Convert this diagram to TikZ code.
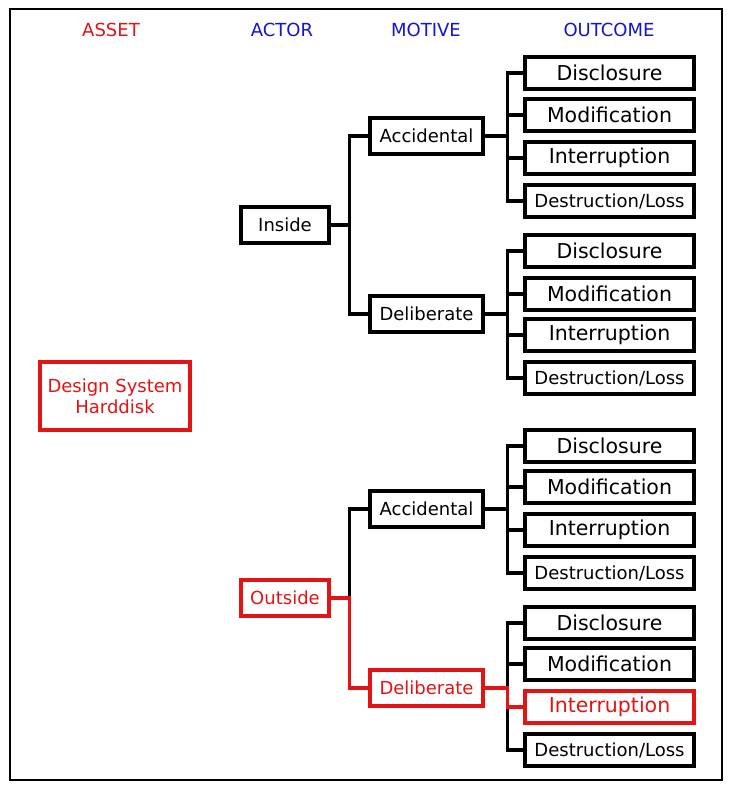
\documentclass[tikz,border=0pt]{standalone}
\usepackage{fontspec}
\setmainfont{DejaVu Sans}
\definecolor{hred}{RGB}{228,20,20}
\definecolor{hblue}{RGB}{20,20,210}
\begin{document}
\begin{tikzpicture}[x=1pt,y=-1pt,
  box/.style={draw,line width=3.2pt,inner sep=0pt,align=center},
  asset/.style={box,minimum width=150pt,minimum height=68pt,font=\fontsize{18}{21}\selectfont},
  actor/.style={box,minimum width=88pt,minimum height=36pt,font=\fontsize{18}{21}\selectfont},
  motive/.style={box,minimum width=113pt,minimum height=36pt,font=\fontsize{18}{21}\selectfont},
  outc/.style={box,minimum width=169pt,minimum height=32pt,font=\fontsize{20.5}{24}\selectfont},
  outs/.style={outc,font=\fontsize{18}{21}\selectfont},
  title/.style={font=\fontsize{18}{21}\selectfont},
  conn/.style={line width=3.2pt},
  hl/.style={draw=hred,text=hred}]
\path[fill=white] (0,0) rectangle (731,787);
\draw[line width=1.2pt] (10,9) rectangle (722,780);
% titles
\node[title,text=hred] (tasset) at (111,30) {ASSET};
\node[title,text=hblue] (tactor) at (282,30) {ACTOR};
\node[title,text=hblue] (tmotive) at (426,30) {MOTIVE};
\node[title,text=hblue] (toutcome) at (609,30) {OUTCOME};
% asset
\node[asset,hl] (asset) at (115,396) {Design System\\Harddisk};
% actors
\node[actor] (inside) at (285,225) {Inside};
\node[actor,hl] (outside) at (285,598) {Outside};
% motives
\node[motive] (acc1) at (426.5,136) {Accidental};
\node[motive] (del1) at (426.5,314) {Deliberate};
\node[motive] (acc2) at (426.5,509) {Accidental};
\node[motive,hl] (del2) at (426.5,688) {Deliberate};
% outcomes
\foreach \g/\ya/\yb/\yc/\yd in {1/73/115/158/201, 2/251/294/335/378, 3/446/487/530/573}{
  \node[outc] (d\g) at (609.5,\ya) {Disclosure};
  \node[outc] (m\g) at (609.5,\yb) {Modification};
  \node[outc] (i\g) at (609.5,\yc) {Interruption};
  \node[outs] (l\g) at (609.5,\yd) {Destruction/Loss};
}
\node[outc] (d4) at (609.5,623) {Disclosure};
\node[outc] (m4) at (609.5,664) {Modification};
\node[outc,hl] (i4) at (609.5,707) {Interruption};
\node[outs] (l4) at (609.5,750) {Destruction/Loss};
% connectors actor -> motive
\draw[conn] (inside.east) -- ++(19,0) |- (acc1.west);
\draw[conn] (inside.east) -- ++(19,0) |- (del1.west);
\draw[conn] (outside.east) -- ++(19,0) |- (acc2.west);
% motive -> outcome
\foreach \m/\g in {acc1/1, del1/2, acc2/3, del2/4}{
  \draw[conn] (\m.east) -- ++(23,0) |- (d\g.west);
  \draw[conn] (\m.east) -- ++(23,0) |- (m\g.west);
  \draw[conn] (\m.east) -- ++(23,0) |- (i\g.west);
  \draw[conn] (\m.east) -- ++(23,0) |- (l\g.west);
}
% highlighted path
\draw[conn,hred] (outside.east) -- ++(19,0) |- (del2.west);
\draw[conn,hred] (del2.east) -- ++(23,0) |- (i4.west);
\end{tikzpicture}
\end{document}
